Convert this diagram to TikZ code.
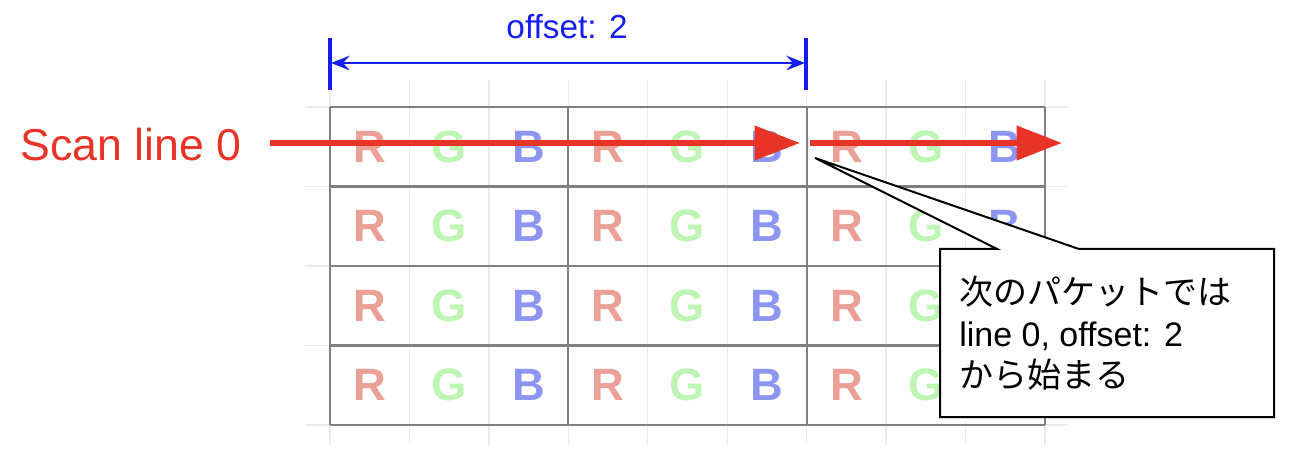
\documentclass[tikz,border=0pt]{standalone}
\usepackage{fontspec}
\setmainfont{Liberation Sans}
\newfontfamily\cjk{Noto Sans CJK JP}
\usetikzlibrary{arrows.meta}
\definecolor{rr}{RGB}{234,160,150}
\definecolor{gg}{RGB}{190,244,180}
\definecolor{bb}{RGB}{140,150,240}
\definecolor{scanred}{RGB}{232,52,38}
\definecolor{offblue}{RGB}{20,30,240}
\begin{document}
\begin{tikzpicture}[x=0.75pt,y=-0.75pt,
  faint/.style={draw=black!8,line width=1pt},
  gridline/.style={draw=black!50,line width=1.6pt},
  letter/.style={font=\fontsize{34}{34}\selectfont\bfseries},
  scanarrow/.style={draw=scanred,line width=4.5pt,-{Triangle[length=34pt,width=25pt]}},
  bluebar/.style={draw=offblue,line width=2.5pt}]
\useasboundingbox (0,0) rectangle (1299,452);
% faint grid extensions
\foreach \i in {0,...,9} \draw[faint] ({330+\i*79.44},80) -- ({330+\i*79.44},445);
\foreach \j in {0,...,4} \draw[faint] (305,{107+\j*79.5}) -- (1068,{107+\j*79.5});
% letters
\foreach \j in {0,...,3}{
 \foreach \k in {0,1,2}{
  \node[letter,text=rr] (r\j\k) at ({330+(3*\k+0.5)*79.44},{107+(\j+0.5)*79.5}) {R};
  \node[letter,text=gg] (g\j\k) at ({330+(3*\k+1.5)*79.44},{107+(\j+0.5)*79.5}) {G};
  \node[letter,text=bb] (b\j\k) at ({330+(3*\k+2.5)*79.44},{107+(\j+0.5)*79.5}) {B};
 }}
% grid
\foreach \j in {0,...,4} \draw[gridline] (330,{107+\j*79.5}) -- (1045,{107+\j*79.5});
\foreach \i in {0,...,3} \draw[gridline] ({330+\i*238.33},107) -- ({330+\i*238.33},425);
% scan arrows
\node[text=scanred,font=\fontsize{33.5}{33.5}\selectfont,anchor=west,inner sep=0pt] (scan) at (20,145) {Scan line 0};
\coordinate (a1s) at (270,143); \coordinate (a1e) at (800,143);
\coordinate (a2s) at (810,143); \coordinate (a2e) at (1062,143);
\draw[scanarrow] (a1s) -- (a1e);
\draw[scanarrow] (a2s) -- (a2e);
% offset dimension
\coordinate (bl1) at (330,38); \coordinate (bl2) at (330,90);
\coordinate (br1) at (806,38); \coordinate (br2) at (806,90);
\draw[bluebar] (bl1) -- (bl2);
\draw[bluebar] (br1) -- (br2);
\coordinate (dl) at (331,63); \coordinate (dr) at (805,63);
\draw[draw=offblue,line width=1.6pt,{Stealth[length=14pt,width=11pt,inset=5pt]}-{Stealth[length=14pt,width=11pt,inset=5pt]}] (dl) -- (dr);
\node[text=offblue,font=\fontsize{25}{25}\selectfont] (off) at (567,27) {offset: 2};
% callout
\coordinate (tip) at (815,158);
\draw[fill=white,line width=1.5pt,line join=miter] (940,249) -- (997,249) -- (tip) -- (1079,249) -- (1274,249) -- (1274,417) -- (940,417) -- cycle;
\node[anchor=north west,align=left,font=\fontsize{25.5}{31}\selectfont,inner sep=0pt] (call) at (959,276) {{\cjk 次のパケットでは}\\line 0, offset: 2\\{\cjk から始まる}};
\end{tikzpicture}
\end{document}
